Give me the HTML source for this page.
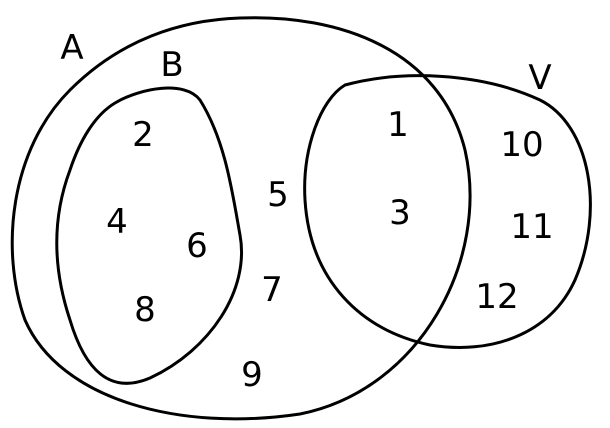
<!DOCTYPE html>
<html><head><meta charset="utf-8"><style>
html,body{margin:0;padding:0;background:#fff;}
svg{display:block;}
text{font-family:"DejaVu Sans","Liberation Sans",sans-serif;font-size:34px;fill:#000;text-anchor:middle;dominant-baseline:central;}
</style></head><body>
<svg width="610" height="428" viewBox="0 0 610 428">
<g fill="none" stroke="#000" stroke-width="3">
<path d="M240,18 C340,14 440,50 465,150 C490,260 420,390 300,414 C180,432 60,400 25,320 C0,250 10,150 70,90 C120,40 180,20 240,18 Z"/>
<path d="M115,103 C140,88 185,80 200,100 C225,140 232,190 240,235 C250,290 210,350 150,378 C110,395 85,370 70,320 C50,260 55,210 70,170 C80,140 95,115 115,103 Z"/>
<path d="M345,85 C400,70 480,72 540,100 C590,125 605,210 575,280 C550,335 490,355 430,345 C360,330 310,280 305,200 C302,150 320,100 345,85 Z"/>
</g>
<text x="72" y="48">A</text>
<text x="172" y="65">B</text>
<text x="540" y="78">V</text>
<text x="143" y="135">2</text>
<text x="117" y="222">4</text>
<text x="197" y="246">6</text>
<text x="145" y="310">8</text>
<text x="278" y="195">5</text>
<text x="272" y="290">7</text>
<text x="252" y="375">9</text>
<text x="398" y="125">1</text>
<text x="400" y="213">3</text>
<text x="522" y="145">10</text>
<text x="532" y="227">11</text>
<text x="497" y="297">12</text>
</svg>
</body></html>
